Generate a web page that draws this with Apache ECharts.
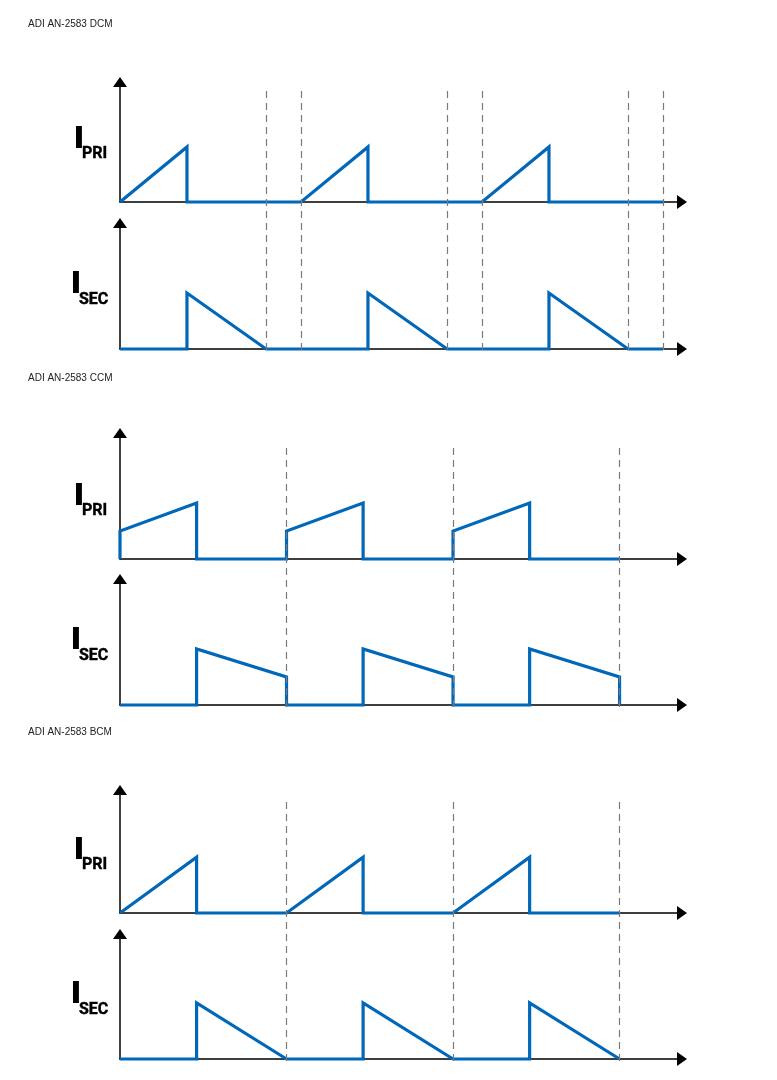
<!DOCTYPE html>
<html>
<head>
    <meta charset="utf-8" />
    <title>ADI AN-2583</title>
    <script src="https://cdn.jsdelivr.net/npm/echarts/dist/echarts.min.js"></script>
    <style>
        html, body { margin: 0; padding: 0; background: #fff; }
    </style>
</head>
<body>
    <div id="main" style="width: 777px; height: 1080px;"></div>
    <script type="text/javascript">
        // DCM: one period = 1, primary on-time 0.37, secondary reset ends at 0.807
        var dcmPriTime = [0, 0.37, 0.37, 1, 1.37, 1.37, 2, 2.37, 2.37, 3];
        var dcmPri = [0, 1, 0, 0, 1, 0, 0, 1, 0, 0];
        var dcmSecTime = [0, 0.37, 0.37, 0.807, 1.37, 1.37, 1.807, 2.37, 2.37, 2.807, 3];
        var dcmSec = [0, 0, 1, 0, 0, 1, 0, 0, 1, 0, 0];
        var dcmMarks = [0.807, 1, 1.807, 2, 2.807, 3];

        // CCM: current never falls to zero
        var ccmPriTime = [0, 0, 0.46, 0.46, 1, 1, 1.46, 1.46, 2, 2, 2.46, 2.46, 3];
        var ccmPri = [0, 0.5, 1, 0, 0, 0.5, 1, 0, 0, 0.5, 1, 0, 0];
        var ccmSecTime = [0, 0.46, 0.46, 1, 1, 1.46, 1.46, 2, 2, 2.46, 2.46, 3, 3];
        var ccmSec = [0, 0, 1, 0.5, 0, 0, 1, 0.5, 0, 0, 1, 0.5, 0];
        var ccmMarks = [1, 2, 3];

        // BCM: secondary reaches zero exactly at end of period
        var bcmPriTime = [0, 0.46, 0.46, 1, 1.46, 1.46, 2, 2.46, 2.46, 3];
        var bcmPri = [0, 1, 0, 0, 1, 0, 0, 1, 0, 0];
        var bcmSecTime = [0, 0.46, 0.46, 1, 1.46, 1.46, 2, 2.46, 2.46, 3];
        var bcmSec = [0, 0, 1, 0, 0, 1, 0, 0, 1, 0];
        var bcmMarks = [1, 2, 3];

        var titles = ['ADI AN-2583 DCM', 'ADI AN-2583 CCM', 'ADI AN-2583 BCM'];

        var blue = '#0067b9';
        var grids = [], xAxes = [], yAxes = [], series = [], graphics = [];

        function pairs(xs, ys) {
            var out = [];
            for (var i = 0; i < xs.length; i++) out.push([xs[i], ys[i]]);
            return out;
        }

        // one waveform with its own arrowed axes
        function addWave(top, bottom, xMax, yMax, time, values) {
            var idx = grids.length;
            grids.push({ left: 120, width: 562, top: top, height: bottom - top });
            var axisLine = {
                show: true,
                onZero: false,
                symbol: ['none', 'triangle'],
                symbolSize: [14, 10],
                lineStyle: { color: '#000', width: 1.5 }
            };
            xAxes.push({
                type: 'value', gridIndex: idx, min: 0, max: xMax,
                axisLine: axisLine, axisTick: { show: false },
                axisLabel: { show: false }, splitLine: { show: false }
            });
            yAxes.push({
                type: 'value', gridIndex: idx, min: 0, max: yMax,
                axisLine: axisLine, axisTick: { show: false },
                axisLabel: { show: false }, splitLine: { show: false }
            });
            series.push({
                type: 'line', xAxisIndex: idx, yAxisIndex: idx,
                data: pairs(time, values),
                showSymbol: false, clip: false, z: 3,
                lineStyle: { color: blue, width: 3.2, join: 'miter' },
                animation: false
            });
        }

        // dashed period markers spanning both waveforms of a panel
        function addMarks(top, bottom, xMax, marks) {
            var idx = grids.length;
            grids.push({ left: 120, width: 562, top: top, height: bottom - top });
            xAxes.push({ type: 'value', gridIndex: idx, min: 0, max: xMax, show: false });
            yAxes.push({ type: 'value', gridIndex: idx, min: 0, max: 1, show: false });
            series.push({
                type: 'line', xAxisIndex: idx, yAxisIndex: idx, data: [], z: 1,
                animation: false,
                markLine: {
                    silent: true, symbol: 'none', animation: false,
                    label: { show: false },
                    lineStyle: { color: '#7a7a7a', width: 1.2, type: [7, 5] },
                    data: marks.map(function (v) { return { xAxis: v }; })
                }
            });
        }

        // big "I" with a bold subscript underneath to its right
        function addLabel(sub, iy, sy, ix, sx) {
            graphics.push({
                type: 'text', x: ix, y: iy,
                style: {
                    text: 'I', font: 'bold 27px Roboto', fill: '#000',
                    stroke: '#000', lineWidth: 2, verticalAlign: 'middle'
                }
            });
            graphics.push({
                type: 'text', x: sx, y: sy,
                style: {
                    text: sub, font: 'bold 16px Roboto', fill: '#000',
                    stroke: '#000', lineWidth: 0.4, verticalAlign: 'middle'
                }
            });
        }

        var panels = [
            { title: 24, priTop: 82, priBase: 202, secTop: 223, secBase: 349, dash: [86, 350], xMax: 3.105,
              priY: 2.18, secY: 2.25, pt: dcmPriTime, p: dcmPri, st: dcmSecTime, s: dcmSec, marks: dcmMarks },
            { title: 378, priTop: 433, priBase: 559, secTop: 579, secBase: 705, dash: [443, 707], xMax: 3.375,
              priY: 2.25, secY: 2.25, pt: ccmPriTime, p: ccmPri, st: ccmSecTime, s: ccmSec, marks: ccmMarks },
            { title: 732, priTop: 790, priBase: 913, secTop: 934, secBase: 1059, dash: [797, 1061], xMax: 3.375,
              priY: 2.2, secY: 2.23, pt: bcmPriTime, p: bcmPri, st: bcmSecTime, s: bcmSec, marks: bcmMarks }
        ];

        panels.forEach(function (pn, k) {
            addMarks(pn.dash[0], pn.dash[1], pn.xMax, pn.marks);
            addWave(pn.priTop, pn.priBase, pn.xMax, pn.priY, pn.pt, pn.p);
            addWave(pn.secTop, pn.secBase, pn.xMax, pn.secY, pn.st, pn.s);
            graphics.push({
                type: 'text', x: 28, y: pn.title,
                style: { text: titles[k], font: '10px "Liberation Sans", Arial', fill: '#222', verticalAlign: 'middle' }
            });
            addLabel('PRI', pn.priBase - 62, pn.priBase - 48, 75, 82);
            addLabel('SEC', pn.secBase - 64, pn.secBase - 49.5, 72, 79);
        });

        var myChart = echarts.init(document.getElementById('main'), null, { renderer: 'canvas' });
        myChart.setOption({
            backgroundColor: '#fff',
            animation: false,
            grid: grids,
            xAxis: xAxes,
            yAxis: yAxes,
            series: series,
            graphic: graphics
        });
    </script>
</body>
</html>
